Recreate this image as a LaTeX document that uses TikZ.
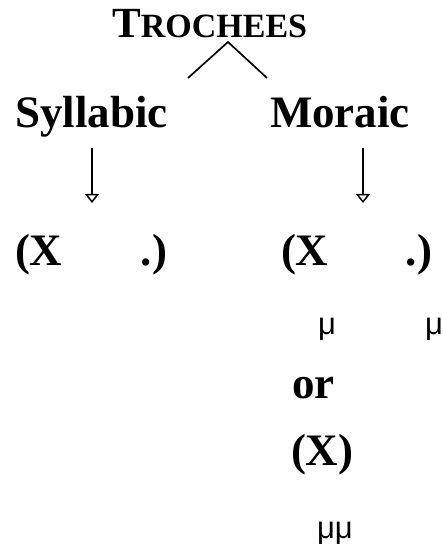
\documentclass[tikz,border=0pt]{standalone}
\usepackage{fontspec}
\setmainfont{Liberation Serif}
\newfontfamily\musans{Liberation Sans}
\usetikzlibrary{arrows.meta}
\tikzset{
  lbl/.style={inner sep=0pt, outer sep=0pt, font=\fontsize{45}{50}\selectfont\bfseries},
  mu/.style={inner sep=0pt, outer sep=0pt, font=\fontsize{31}{36}\selectfont\musans},
  branch/.style={line width=1.7pt},
  down/.style={line width=1.7pt, -{Triangle[open, width=14pt, length=9pt, line width=1.5pt]}}
}
\begin{document}
\begin{tikzpicture}[x=1pt,y=-1pt]
\useasboundingbox (0,0) rectangle (442,545);
% title
\node[inner sep=0pt, anchor=base west] (title) at (112,38)
  {\bfseries\fontsize{43}{50}\selectfont T\fontsize{34}{40}\selectfont ROCHEES};
\coordinate (apex) at (228,42);
\coordinate (lend) at (188,78);
\coordinate (rend) at (267,78);
\draw[branch] (lend) -- (apex) -- (rend);
% categories
\node[lbl, anchor=base west] (syl) at (15,128) {Syllabic};
\node[lbl, anchor=base west] (mor) at (270,128) {Moraic};
\coordinate (sa) at (92,148);
\coordinate (sb) at (92,203);
\coordinate (ma) at (363,148);
\coordinate (mb) at (363,203);
\draw[down] (sa) -- (sb);
\draw[down] (ma) -- (mb);
% feet
\node[lbl, anchor=base west] (lx) at (15,265) {(X};
\node[lbl, anchor=base east] (ld) at (167,265) {.)};
\node[lbl, anchor=base west] (rx) at (281,265) {(X};
\node[lbl, anchor=base east] (rd) at (432,265) {.)};
\node[mu, anchor=base west] (mu1) at (318,334) {μ};
\node[mu, anchor=base west] (mu2) at (425,334) {μ};
\node[lbl, anchor=base west] (or) at (292,398) {or};
\node[lbl, anchor=base west] (xx) at (291,465) {(X)};
\node[mu, anchor=base west] (mumu) at (317,538) {μμ};
\end{tikzpicture}
\end{document}
